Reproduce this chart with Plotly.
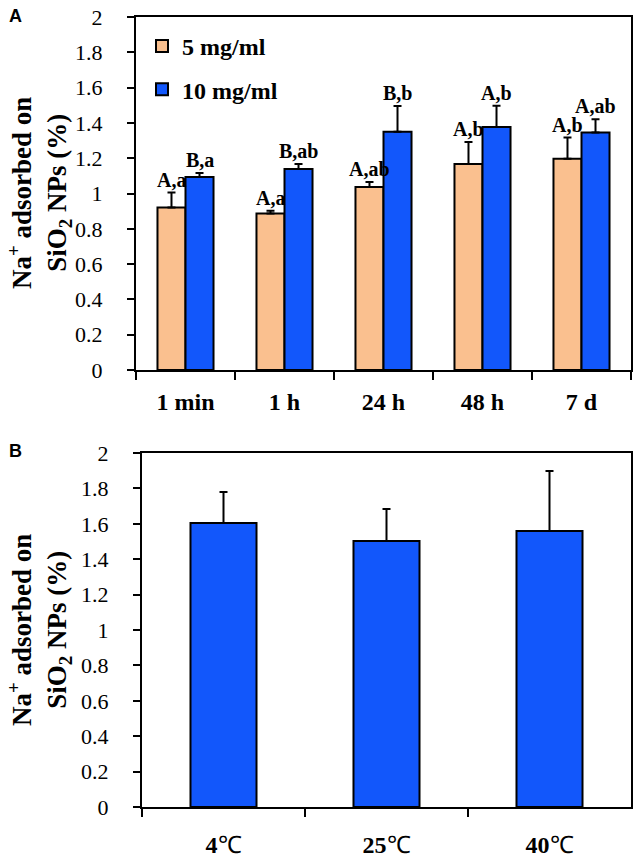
import plotly.graph_objects as go

# ---------------- data ----------------
times_a = ["1 min", "1 h", "24 h", "48 h", "7 d"]
low_vals = [0.92, 0.887, 1.037, 1.167, 1.197]
low_err = [0.085, 0.015, 0.028, 0.125, 0.12]
high_vals = [1.093, 1.139, 1.35, 1.377, 1.346]
high_err = [0.023, 0.028, 0.146, 0.12, 0.074]
low_letters = ["A,a", "A,a", "A,ab", "A,b", "A,b"]
high_letters = ["B,a", "B,ab", "B,b", "A,b", "A,ab"]
series_names = ["5 mg/ml", "10 mg/ml"]

temps = ["4℃", "25℃", "40℃"]
temp_ticktext = ["<b>4</b>℃", "<b>25</b>℃", "<b>40</b>℃"]
temp_vals = [1.605, 1.503, 1.559]
temp_err = [0.175, 0.181, 0.339]

yticks = [0, 0.2, 0.4, 0.6, 0.8, 1, 1.2, 1.4, 1.6, 1.8, 2]
ytick_text = ["0", "0.2", "0.4", "0.6", "0.8", "1", "1.2", "1.4", "1.6", "1.8", "2"]

# ---------------- style ----------------
W, H = 638, 860
PEACH = "#FAC08F"
BLUE = "#1257FB"
SERIF = "Liberation Serif"
SANS = "Liberation Sans"

def px_x(p):
    return p / W

def px_y(p):
    return 1 - p / H

fig = go.Figure()

bw = 0.283
fig.add_trace(go.Bar(
    x=times_a, y=low_vals, name=series_names[0], legendgroup="g1",
    marker=dict(color=PEACH, line=dict(color="black", width=2)),
    width=bw, offset=-bw,
    error_y=dict(type="data", symmetric=False, array=low_err,
                 arrayminus=[0] * len(low_err), color="black",
                 thickness=2, width=4),
    xaxis="x", yaxis="y"))
fig.add_trace(go.Bar(
    x=times_a, y=high_vals, name=series_names[1], legendgroup="g2",
    marker=dict(color=BLUE, line=dict(color="black", width=2)),
    width=bw, offset=0,
    error_y=dict(type="data", symmetric=False, array=high_err,
                 arrayminus=[0] * len(high_err), color="black",
                 thickness=2, width=4),
    xaxis="x", yaxis="y"))

fig.add_trace(go.Bar(
    x=temps, y=temp_vals, showlegend=False,
    marker=dict(color=BLUE, line=dict(color="black", width=2)),
    width=0.405,
    error_y=dict(type="data", symmetric=False, array=temp_err,
                 arrayminus=[0] * len(temp_err), color="black",
                 thickness=2, width=4),
    xaxis="x2", yaxis="y2"))

# significance letters
annos = []
for i, cat in enumerate(times_a):
    annos.append(dict(x=cat, y=low_vals[i] + low_err[i], xref="x", yref="y",
                      text="<b>%s</b>" % low_letters[i], showarrow=False,
                      xshift=-14, yanchor="bottom", yshift=0,
                      font=dict(family=SERIF, size=20, color="black")))
    annos.append(dict(x=cat, y=high_vals[i] + high_err[i], xref="x", yref="y",
                      text="<b>%s</b>" % high_letters[i], showarrow=False,
                      xshift=14, yanchor="bottom", yshift=0,
                      font=dict(family=SERIF, size=20, color="black")))

ytitle = "<b>Na<sup>+</sup> adsorbed on<br>SiO<sub>2</sub> NPs (%)</b>"
for yc in (193, 630):
    annos.append(dict(x=px_x(39), y=px_y(yc), xref="paper", yref="paper",
                      xanchor="center", yanchor="middle",
                      text=ytitle, textangle=-90, showarrow=False,
                      font=dict(family=SERIF, size=27, color="black")))
annos.append(dict(x=px_x(15), y=px_y(16), xref="paper", yref="paper",
                  xanchor="center", yanchor="middle",
                  text="<b>A</b>", showarrow=False,
                  font=dict(family=SANS, size=18, color="black")))
annos.append(dict(x=px_x(15), y=px_y(451), xref="paper", yref="paper",
                  xanchor="center", yanchor="middle",
                  text="<b>B</b>", showarrow=False,
                  font=dict(family=SANS, size=18, color="black")))

axis_common = dict(showline=True, linecolor="black", linewidth=2, mirror=True,
                   ticks="outside", tickwidth=2, tickcolor="black",
                   showgrid=False, zeroline=False, automargin=False)

fig.update_layout(
    width=W, height=H,
    margin=dict(l=0, r=0, t=0, b=0, autoexpand=False),
    paper_bgcolor="white", plot_bgcolor="white",
    barmode="group",
    annotations=annos,
    showlegend=True,
    font=dict(family=SERIF, color="black"),
    legend=dict(x=px_x(142), y=px_y(24), xanchor="left", yanchor="top",
                bgcolor="rgba(0,0,0,0)", tracegroupgap=9,
                traceorder="grouped",
                font=dict(family=SERIF, size=24, color="black", weight="bold")),
    xaxis=dict(domain=[px_x(136), px_x(631)], anchor="y", type="category",
               tickson="boundaries", ticklen=8, ticklabelstandoff=9,
               tickfont=dict(family=SERIF, size=24, color="black", weight="bold"),
               **axis_common),
    yaxis=dict(domain=[px_y(370), px_y(17)], anchor="x", range=[0, 2],
               tickvals=yticks, ticktext=ytick_text, ticklen=7,
               ticklabelstandoff=20,
               tickfont=dict(family=SERIF, size=22, color="black"),
               **axis_common),
    xaxis2=dict(domain=[px_x(142), px_x(631)], anchor="y2", type="category",
                tickson="boundaries", ticklen=8, ticklabelstandoff=15,
                tickvals=temps, ticktext=temp_ticktext,
                tickfont=dict(family=SERIF, size=24, color="black"),
                **axis_common),
    yaxis2=dict(domain=[px_y(807), px_y(453)], anchor="x2", range=[0, 2],
                tickvals=yticks, ticktext=ytick_text, ticklen=7,
                ticklabelstandoff=20,
                tickfont=dict(family=SERIF, size=22, color="black"),
                **axis_common),
)

fig.write_html("out.html",
               config={"displayModeBar": False},
               post_script="document.body.style.margin='0px';document.body.style.padding='0px';")
